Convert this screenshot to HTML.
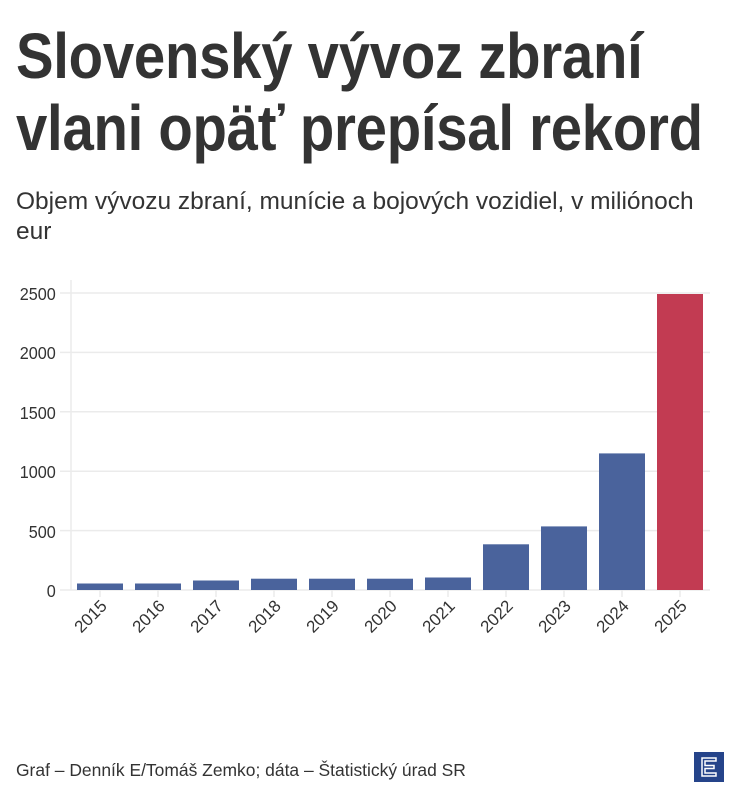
<!DOCTYPE html>
<html><head><meta charset="utf-8"><style>
body{margin:0;background:#fff;width:738px;height:800px;overflow:hidden;font-family:"Liberation Sans",sans-serif;color:#333}
.t{position:absolute;left:16px;font-weight:bold;font-size:64px;line-height:64px;color:#333;transform:scaleX(0.88);transform-origin:left top;white-space:nowrap;letter-spacing:-0.3px}
.s{position:absolute;left:16px;top:187px;font-size:24px;color:#333;transform:scaleX(1.02);transform-origin:left top;line-height:30px;white-space:nowrap}
</style></head><body>
<div class="t" style="top:24px">Slovenský vývoz zbraní</div>
<div class="t" style="top:96px">vlani opäť prepísal rekord</div>
<div class="s">Objem vývozu zbraní, munície a bojových vozidiel, v miliónoch<br>eur</div>
<svg width="738" height="800" style="position:absolute;left:0;top:0" font-family="Liberation Sans, sans-serif">
<g stroke="#ebebeb" stroke-width="1.5">
<line x1="60" y1="293" x2="710" y2="293"/><line x1="60" y1="352.4" x2="710" y2="352.4"/><line x1="60" y1="411.8" x2="710" y2="411.8"/><line x1="60" y1="471.2" x2="710" y2="471.2"/><line x1="60" y1="530.6" x2="710" y2="530.6"/><line x1="60" y1="590" x2="710" y2="590"/>
<line x1="71" y1="280" x2="71" y2="590"/>
</g>
<g fill="#333" font-size="18" text-anchor="end" transform="scale(0.9,1)">
<text x="62" y="300">2500</text><text x="62" y="359">2000</text><text x="62" y="419">1500</text><text x="62" y="478">1000</text><text x="62" y="538">500</text><text x="62" y="597">0</text>
</g>
<g fill="#4a639c">
<rect x="77" y="583.5" width="46" height="6.5"/><rect x="135" y="583.5" width="46" height="6.5"/><rect x="193" y="580.5" width="46" height="9.5"/><rect x="251" y="578.7" width="46" height="11.3"/><rect x="309" y="578.7" width="46" height="11.3"/><rect x="367" y="578.7" width="46" height="11.3"/><rect x="425" y="577.5" width="46" height="12.5"/><rect x="483" y="544.3" width="46" height="45.7"/><rect x="541" y="526.4" width="46" height="63.6"/><rect x="599" y="453.4" width="46" height="136.6"/>
</g>
<rect x="657" y="294" width="46" height="296" fill="#c23b52"/>
<g stroke="#ebebeb" stroke-width="1.5">
<line x1="100" y1="590" x2="100" y2="597"/><line x1="158" y1="590" x2="158" y2="597"/><line x1="216" y1="590" x2="216" y2="597"/><line x1="274" y1="590" x2="274" y2="597"/><line x1="332" y1="590" x2="332" y2="597"/><line x1="390" y1="590" x2="390" y2="597"/><line x1="448" y1="590" x2="448" y2="597"/><line x1="506" y1="590" x2="506" y2="597"/><line x1="564" y1="590" x2="564" y2="597"/><line x1="622" y1="590" x2="622" y2="597"/><line x1="680" y1="590" x2="680" y2="597"/>
</g>
<g fill="#333" font-size="17" text-anchor="end">
<text transform="translate(108,607) rotate(-45)">2015</text><text transform="translate(166,607) rotate(-45)">2016</text><text transform="translate(224,607) rotate(-45)">2017</text><text transform="translate(282,607) rotate(-45)">2018</text><text transform="translate(340,607) rotate(-45)">2019</text><text transform="translate(398,607) rotate(-45)">2020</text><text transform="translate(456,607) rotate(-45)">2021</text><text transform="translate(514,607) rotate(-45)">2022</text><text transform="translate(572,607) rotate(-45)">2023</text><text transform="translate(630,607) rotate(-45)">2024</text><text transform="translate(688,607) rotate(-45)">2025</text>
</g>
<text x="16" y="776" font-size="18" fill="#333" transform="translate(16,0) scale(0.97,1) translate(-16,0)">Graf – Denník E/Tomáš Zemko; dáta – Štatistický úrad SR</text>
<rect x="694" y="752" width="30" height="30" fill="#25448a"/>
<path d="M702 758 H716 V761 H705 V765.5 H714 V768.5 H705 V773 H716 V776 H702 Z" fill="none" stroke="#fff" stroke-width="1.5"/>
</svg>
</body></html>
